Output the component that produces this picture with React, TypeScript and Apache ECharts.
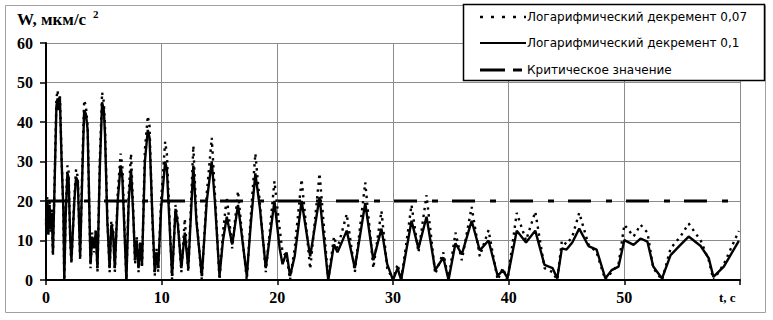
import React, { useEffect, useRef } from 'react';
import * as echarts from 'echarts';

// time, s
const timeS = [
  0, 0.1, 0.2, 0.3, 0.4, 0.5, 0.6, 0.75, 0.9, 1.0,
  1.1, 1.2, 1.35, 1.5, 1.58, 1.7, 1.85, 1.95, 2.1, 2.2,
  2.45, 2.6, 2.75, 2.95, 3.15, 3.3, 3.45, 3.6, 3.85, 4.0,
  4.15, 4.3, 4.45, 4.65, 4.85, 5.0, 5.1, 5.3, 5.5, 5.65,
  5.8, 5.95, 6.2, 6.45, 6.6, 6.95, 7.15, 7.35, 7.55, 7.7,
  7.85, 8.0, 8.15, 8.3, 8.55, 8.8, 8.95, 9.2, 9.4, 9.55,
  9.7, 9.95, 10.3, 10.45, 10.9, 11.2, 11.4, 11.7, 12.0, 12.3,
  12.74, 13.0, 13.47, 13.9, 14.33, 14.6, 15.0, 15.3, 15.63, 16.1,
  16.6, 16.9, 17.36, 17.7, 18.1, 18.5, 19.0, 19.4, 19.75, 20.2,
  20.45, 20.8, 21.1, 21.5, 22.1, 22.84, 23.65, 24.4, 24.9, 25.2,
  26.0, 26.7, 27.6, 28.3, 29.0, 29.5, 30.0, 30.4, 30.7, 31.0,
  31.6, 32.2, 32.9, 33.65, 34.35, 34.8, 35.4, 35.95, 36.8, 37.5,
  38.26, 39.05, 39.5, 39.9, 40.7, 41.5, 42.3, 43.1, 43.8, 44.2,
  44.6, 45.0, 45.5, 46.1, 46.9, 47.6, 48.36, 48.9, 49.5, 50.0,
  50.8, 51.4, 52.0, 52.5, 53.26, 54.0, 54.85, 55.56, 56.6, 57.3,
  57.7, 58.6, 59.9,
];

// logarithmic decrement 0.1 (solid)
const w01 = [
  15, 20, 12, 19, 13, 17, 7, 25, 44, 46,
  43, 46, 30, 18, 0, 16, 27, 26, 10, 5,
  20, 26, 25, 6, 28, 43, 42, 38, 4, 11,
  8, 12, 3, 28, 45, 43, 37, 15, 3, 14,
  12, 3, 20, 29, 26, 0, 20, 28, 16, 5,
  10, 3, 9, 4, 30, 38, 36, 16, 2, 7,
  3, 18, 30, 28, 1, 18, 14, 3, 12, 3,
  29, 15, 1, 20, 30, 20, 1, 10, 16, 9,
  19, 12, 1, 14, 27, 18, 3, 12, 20, 8,
  4, 7, 1, 6, 20, 6, 21, 0, 9, 7,
  12.5, 3, 19.5, 5, 13, 4, 0, 3, 0, 5,
  15, 8, 16, 2.5, 5.7, 0, 9.3, 6.5, 15, 7.5,
  10, 1, 2.5, 0.5, 12.5, 9.5, 12.5, 3.8, 3, 0.4,
  8, 7.7, 9.5, 13, 8.6, 7.7, 0.4, 2.5, 3.4, 10.1,
  8.9, 10.5, 9.7, 3.4, 0.4, 6.3, 8.9, 11, 8.6, 5.5,
  0.8, 3.4, 9.9,
];

// logarithmic decrement 0.07 (dotted)
const w007 = [
  14, 21, 11, 20, 12, 18, 6, 26, 46, 48,
  45, 47, 31, 17, 0, 17, 29, 28, 9, 4,
  21, 28, 26, 5, 30, 45.5, 44, 39, 3, 12,
  7, 13, 2, 30, 47.5, 45, 39, 16, 2, 15,
  13, 2, 22, 32, 29, 0, 22, 32, 17, 4,
  11, 2, 10, 3, 33, 41.5, 39, 15, 1, 8,
  2, 20, 35, 32, 0, 19, 15, 2, 15.5, 2,
  34, 16, 0, 22, 36, 22, 0, 12, 21, 8,
  22.5, 13, 0, 16, 32, 19, 2, 14, 25, 13,
  7, 6, 0, 8, 25.5, 2.8, 27, 0, 11, 8,
  16.7, 2, 24.7, 3, 17.5, 3, 0, 4, 0, 6,
  19, 7, 21.5, 1.5, 7, 0, 12, 5, 18.5, 6,
  12.6, 0, 3, 0, 17, 10, 17.3, 3, 2, 0,
  10, 9, 11, 17, 9, 7, 0, 2, 4, 14,
  11, 14, 12, 3, 0, 8, 11, 14.3, 10, 5,
  0, 4, 12.4,
];

const criticalT = [0, 60];
const criticalW = [20, 20];

const seriesNames = [
  'Логарифмический декремент 0,07',
  'Логарифмический декремент 0,1',
  'Критическое значение',
];

const xMax = 60;
const yMax = 60;
const tickStep = 10;

export default function App() {
  const ref = useRef<HTMLDivElement>(null);

  useEffect(() => {
    if (!ref.current) return;
    const chart = echarts.init(ref.current, null, { renderer: 'svg' });
    const serif = '"Liberation Serif", "Times New Roman", serif';
    const sans = '"DejaVu Sans", Arial, sans-serif';
    const legendRows = [17, 43, 70];
    const legendDash: any[] = [[3, 8], null, [25, 8, 9, 200]];
    const legendWidth = [2.5, 2, 3];
    const legendEls: any[] = [];
    seriesNames.forEach((name, i) => {
      legendEls.push({
        type: 'line',
        z: 7,
        silent: true,
        shape: { x1: 480, y1: legendRows[i], x2: 526, y2: legendRows[i] },
        style: {
          stroke: '#000',
          lineWidth: legendWidth[i],
          lineDash: legendDash[i] || undefined,
        },
      });
      legendEls.push({
        type: 'text',
        z: 7,
        silent: true,
        x: 527,
        y: legendRows[i],
        style: {
          text: name,
          font: `12px ${sans}`,
          fill: '#000',
          verticalAlign: 'middle',
          align: 'left',
        },
      });
    });
    chart.setOption({
      animation: false,
      backgroundColor: '#ffffff',
      grid: { left: 46, top: 43, right: 33, bottom: 40, containLabel: false },
      graphic: [
        {
          type: 'rect',
          z: 0,
          silent: true,
          shape: { x: 5.5, y: 5.5, width: 760, height: 307 },
          style: { fill: 'none', stroke: '#a0a0a0', lineWidth: 1 },
        },
        {
          type: 'rect',
          z: 5,
          silent: true,
          shape: { x: 463.5, y: 4.5, width: 301, height: 76 },
          style: { fill: '#ffffff', stroke: '#000000', lineWidth: 1.5 },
        },
        ...legendEls,
        {
          type: 'text',
          x: 17,
          y: 11,
          z: 6,
          style: { text: 'W, мкм/с', font: `bold 17px ${serif}`, fill: '#000' },
        },
        {
          type: 'text',
          x: 93,
          y: 8,
          z: 6,
          style: { text: '2', font: `bold 11px ${serif}`, fill: '#000' },
        },
        {
          type: 'text',
          x: 719,
          y: 291,
          z: 6,
          style: { text: 't, c', font: `bold 13px ${serif}`, fill: '#000' },
        },
      ],
      xAxis: {
        type: 'value',
        min: 0,
        max: xMax,
        interval: tickStep,
        axisLine: { show: true, onZero: false, lineStyle: { color: '#000', width: 2 } },
        axisTick: { show: true, length: 5, lineStyle: { color: '#000', width: 1.5 } },
        axisLabel: {
          margin: 9,
          color: '#000',
          fontFamily: serif,
          fontWeight: 'bold',
          fontSize: 16,
          formatter: (v: number) => (v === xMax ? '' : String(v)),
        },
        splitLine: { show: true, lineStyle: { color: '#8c8c8c', width: 1 } },
      },
      yAxis: {
        type: 'value',
        min: 0,
        max: yMax,
        interval: tickStep,
        axisLine: { show: true, onZero: false, lineStyle: { color: '#000', width: 2 } },
        axisTick: { show: true, length: 6, lineStyle: { color: '#000', width: 1.5 } },
        axisLabel: {
          margin: 13,
          color: '#000',
          fontFamily: serif,
          fontWeight: 'bold',
          fontSize: 16,
        },
        splitLine: { show: true, lineStyle: { color: '#8c8c8c', width: 1 } },
      },
      series: [
        {
          name: seriesNames[0],
          type: 'line',
          symbol: 'none',
          z: 2,
          lineStyle: { color: '#000', width: 2.4, type: [2.4, 4.5] },
          itemStyle: { color: '#000' },
          data: timeS.map((t, i) => [t, w007[i]]),
        },
        {
          name: seriesNames[1],
          type: 'line',
          symbol: 'none',
          z: 3,
          lineStyle: { color: '#000', width: 2.4, type: 'solid' },
          itemStyle: { color: '#000' },
          data: timeS.map((t, i) => [t, w01[i]]),
        },
        {
          name: seriesNames[2],
          type: 'line',
          symbol: 'none',
          z: 3,
          lineStyle: { color: '#000', width: 3, type: [23, 15, 6, 14] },
          itemStyle: { color: '#000' },
          data: criticalT.map((t, i) => [t, criticalW[i]]),
        },
      ],
    });
    return () => chart.dispose();
  }, []);

  return (
    <div
      ref={ref}
      style={{ position: 'fixed', left: 0, top: 0, width: 773, height: 320, background: '#fff' }}
    />
  );
}
